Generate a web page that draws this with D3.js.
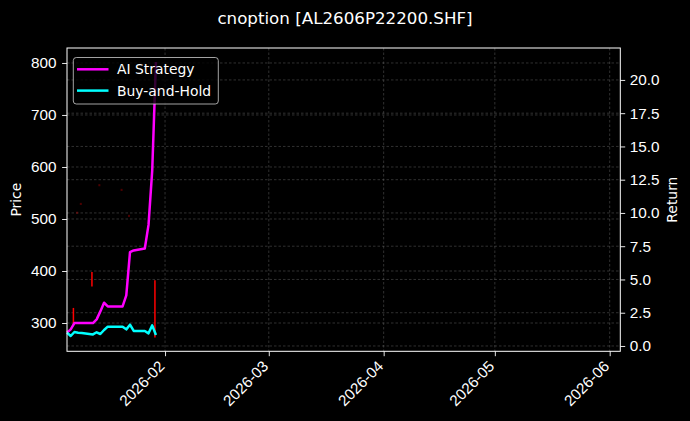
<!DOCTYPE html>
<html><head><meta charset="utf-8">
<script src="https://cdn.jsdelivr.net/npm/d3@7"></script>
<style>
html,body{margin:0;padding:0;background:#000;}
svg{display:block;font-family:"DejaVu Sans",sans-serif;}
</style></head>
<body>
<svg id="c" width="690" height="421"></svg>
<script>
// ---- data ----
const dates = ["2026-01-05","2026-01-06","2026-01-07","2026-01-08","2026-01-09",
  "2026-01-12","2026-01-13","2026-01-14","2026-01-15","2026-01-16",
  "2026-01-19","2026-01-20","2026-01-21","2026-01-22","2026-01-23",
  "2026-01-26","2026-01-27","2026-01-28","2026-01-29"];
const aiStrategy = [1.0,1.25,1.72,1.72,1.72, 1.72,2.0,2.6,3.25,2.97, 2.97,2.97,3.8,7.05,7.18, 7.33,9.1,13.2,21.35];
const buyHold    = [1.0,0.75,1.05,1.0,0.97, 0.87,1.03,0.9,1.2,1.45, 1.45,1.45,1.25,1.6,1.13, 1.13,0.95,1.55,0.83];
const candleDates = ["2026-01-07","2026-01-08","2026-01-09","2026-01-12","2026-01-14","2026-01-20","2026-01-22","2026-01-29"];
const candleLow   = [297, 510, 527, 370, 563, 554, 504, 272];
const candleHigh  = [329, 514, 531, 398, 567, 558, 508, 382];
const priceTicks  = [300,400,500,600,700,800];
const returnTicks = [0,2.5,5,7.5,10,12.5,15,17.5,20];
const xTicks = ["2026-02-01","2026-03-01","2026-04-01","2026-05-01","2026-06-01"];
const title = "cnoption [AL2606P22200.SHF]";
const seriesNames = ["AI Strategy","Buy-and-Hold"];

// ---- layout ----
const L=67, R=620.3, T=48, B=351.3;
const parse = s => { const [y,m,d]=s.split("-").map(Number); return new Date(y,m-1,d,13,0); };
const parse0 = s => { const [y,m,d]=s.split("-").map(Number); return new Date(y,m-1,d); };

const x = d3.scaleTime().domain([new Date(2026,0,5,13,0), new Date(2026,5,3,20,40)]).range([L,R]);
const yP = d3.scaleLinear().domain([245.6,828.8]).range([B,T]);
const yR = d3.scaleLinear().domain([-0.4,22.4]).range([B,T]);

const svg = d3.select("#c");
svg.append("rect").attr("width",690).attr("height",421).attr("fill","#000");

// grid
const g = svg.append("g");
const gridStyle = sel => sel.attr("stroke","#b0b0b0").attr("stroke-opacity",0.35).attr("stroke-width",0.8).attr("stroke-dasharray","2.5,2");
xTicks.forEach(t=>{ g.append("line").attr("x1",x(parse0(t))).attr("x2",x(parse0(t))).attr("y1",T).attr("y2",B).call(gridStyle); });
priceTicks.forEach(t=>{ g.append("line").attr("x1",L).attr("x2",R).attr("y1",yP(t)).attr("y2",yP(t)).call(gridStyle); });
returnTicks.forEach(t=>{ g.append("line").attr("x1",L).attr("x2",R).attr("y1",yR(t)).attr("y2",yR(t)).call(gridStyle); });

// candles
const cg = svg.append("g");
candleDates.forEach((d,i)=>{
  const tiny = (candleHigh[i]-candleLow[i]) < 10;
  cg.append("line").attr("x1",x(parse(d))-1).attr("x2",x(parse(d))-1)
    .attr("y1",yP(candleLow[i])).attr("y2",yP(candleHigh[i]))
    .attr("stroke","#ff0000").attr("stroke-width",tiny?2:1.5)
    .attr("stroke-opacity",tiny?0.3:1);
});

// lines
const pts = dates.map(parse);
const lineGen = d3.line().x((d,i)=>x(pts[i])).y(d=>yR(d));
svg.append("path").datum(aiStrategy).attr("d",lineGen).attr("fill","none")
  .attr("stroke","#ff00ff").attr("stroke-width",2.5).attr("stroke-linejoin","round");
svg.append("path").datum(buyHold).attr("d",lineGen).attr("fill","none")
  .attr("stroke","#00ffff").attr("stroke-width",2.5).attr("stroke-linejoin","round");

// axes
const fs = "15.3px";
const ax = svg.append("g").attr("transform",`translate(0,${B})`)
  .call(d3.axisBottom(x).tickValues(xTicks.map(parse0)).tickFormat(d3.timeFormat("%Y-%m")).tickSize(4.9).tickPadding(3));
ax.select(".domain").remove();
ax.selectAll("line").attr("stroke","#fff").attr("stroke-width",0.9);
ax.selectAll("text").attr("fill","#fff").style("font-size",fs)
  .attr("text-anchor","end").attr("dy",null).attr("y",null)
  .attr("transform","translate(0,16) rotate(-45)");

const al = svg.append("g").attr("transform",`translate(${L},0)`)
  .call(d3.axisLeft(yP).tickValues(priceTicks).tickFormat(d3.format("d")).tickSize(4.9).tickPadding(5.5));
al.select(".domain").remove();
al.selectAll("line").attr("stroke","#fff").attr("stroke-width",0.9);
al.selectAll("text").attr("fill","#fff").style("font-size",fs);

const ar = svg.append("g").attr("transform",`translate(${R},0)`)
  .call(d3.axisRight(yR).tickValues(returnTicks).tickFormat(d3.format(".1f")).tickSize(4.9).tickPadding(4.5));
ar.select(".domain").remove();
ar.selectAll("line").attr("stroke","#fff").attr("stroke-width",0.9);
ar.selectAll("text").attr("fill","#fff").style("font-size",fs);

// spines
svg.append("rect").attr("x",L).attr("y",T).attr("width",R-L).attr("height",B-T)
  .attr("fill","none").attr("stroke","#fff").attr("stroke-width",1);

// labels
svg.append("text").attr("x",345).attr("y",24).attr("text-anchor","middle")
  .attr("fill","#fff").style("font-size","16.7px").text(title);
svg.append("text").attr("transform",`translate(21,${(T+B)/2}) rotate(-90)`).attr("text-anchor","middle")
  .attr("fill","#fff").style("font-size","13.9px").text("Price");
svg.append("text").attr("transform",`translate(677,${(T+B)/2}) rotate(-90)`).attr("text-anchor","middle")
  .attr("fill","#fff").style("font-size","13.9px").text("Return");

// legend
const lg = svg.append("g");
lg.append("rect").attr("x",73.3).attr("y",57.5).attr("width",145).attr("height",46.5).attr("rx",3)
  .attr("fill","#000").attr("fill-opacity",0.8).attr("stroke","#ccc").attr("stroke-opacity",0.8).attr("stroke-width",1);
const lc = ["#ff00ff","#00ffff"];
seriesNames.forEach((n,i)=>{
  const yy = 69.3 + i*21.3;
  lg.append("line").attr("x1",77).attr("x2",108.5).attr("y1",yy).attr("y2",yy).attr("stroke",lc[i]).attr("stroke-width",2.5);
  lg.append("text").attr("x",117).attr("y",yy+5).attr("fill","#fff").style("font-size","13.9px").text(n);
});
</script>
</body></html>
